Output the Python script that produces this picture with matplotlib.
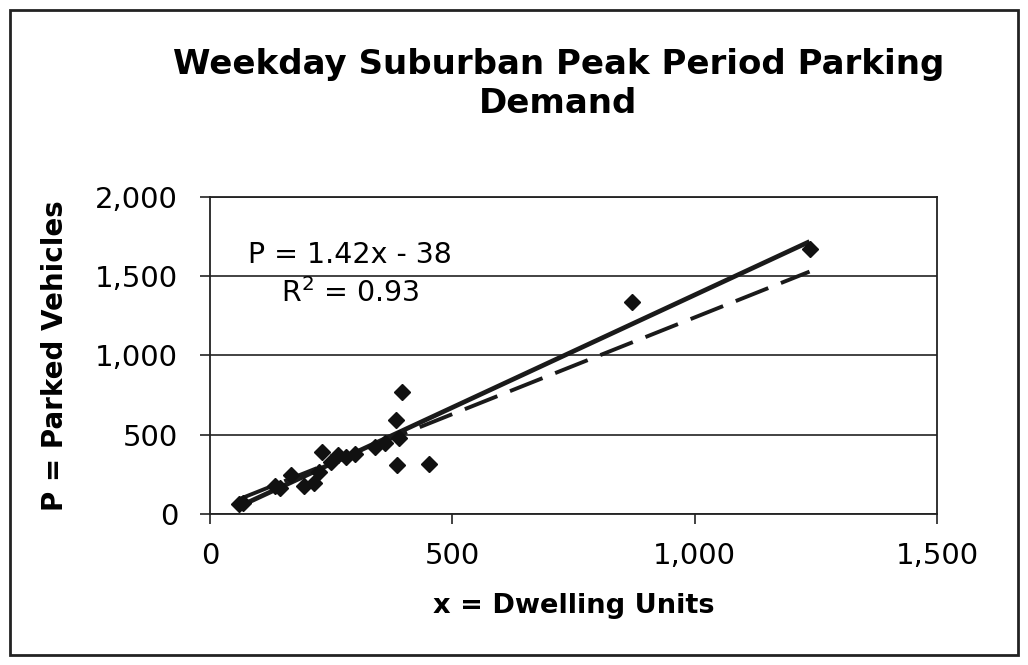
import matplotlib
matplotlib.use('Agg')
import matplotlib.pyplot as plt
from matplotlib.patches import Rectangle
import numpy as np

# dwelling units vs parked vehicles
units = [60, 68, 135, 145, 167, 194, 215, 225, 232, 250, 265, 280, 300, 340,
         360, 383, 385, 390, 397, 451, 870, 1237]
parked = [60, 72, 175, 165, 246, 176, 193, 265, 393, 330, 370, 360, 380, 420,
          450, 593, 309, 480, 771, 313, 1339, 1671]

fit_slope, fit_icpt = 1.42, -38      # solid regression line
alt_slope, alt_icpt = 1.22, 20       # dashed comparison line

xticks = [0, 500, 1000, 1500]
yticks = [0, 500, 1000, 1500, 2000]

plt.rcParams['font.family'] = ['DejaVu Sans']

fig = plt.figure(figsize=(10.28, 6.65), dpi=100)
ax = fig.add_axes([0.2043, 0.2271, 0.7072, 0.4767])

xs = np.array([min(units), max(units)])
ax.plot(xs, fit_slope*xs + fit_icpt, color='#1a1a1a', lw=3.4, solid_capstyle='butt', zorder=3)
ax.plot(xs, alt_slope*xs + alt_icpt, color='#1a1a1a', lw=2.8,
        linestyle=(0, (9, 3.5)), zorder=3)
ax.plot(units, parked, 'D', color='#111111', ms=8, zorder=4)

ax.set_xlim(0, 1500)
ax.set_ylim(0, 2000)
ax.set_xticks(xticks)
ax.set_yticks(yticks)
ax.set_xticklabels([f'{v:,}' for v in xticks], fontsize=21)
ax.set_yticklabels([f'{v:,}' for v in yticks], fontsize=21)
ax.tick_params(axis='both', direction='out', length=7, width=1.2, color='#222222')
ax.tick_params(axis='x', pad=13)
ax.tick_params(axis='y', pad=16)
ax.yaxis.grid(True, color='#222222', lw=1.2)
for s in ax.spines.values():
    s.set_linewidth(1.3)
    s.set_color('#222222')

ax.set_xlabel('x = Dwelling Units', fontsize=19.6, fontweight='bold', labelpad=17)
ax.set_ylabel('P = Parked Vehicles', fontsize=20, fontweight='bold', labelpad=19)

ax.text(289, 1633, 'P = 1.42x - 38', fontsize=20.5, ha='center', va='center')
ax.text(289, 1393, 'R$^2$ = 0.93', fontsize=20.5, ha='center', va='center')

fig.text(0.543, 0.874, 'Weekday Suburban Peak Period Parking\nDemand',
         fontsize=24.5, fontweight='bold', ha='center', va='center', linespacing=1.25)

fig.patches.append(Rectangle((0.01, 0.015), 0.98, 0.97, transform=fig.transFigure,
                             fill=False, lw=2, edgecolor='#222222'))

fig.savefig('out.png', dpi=100)
